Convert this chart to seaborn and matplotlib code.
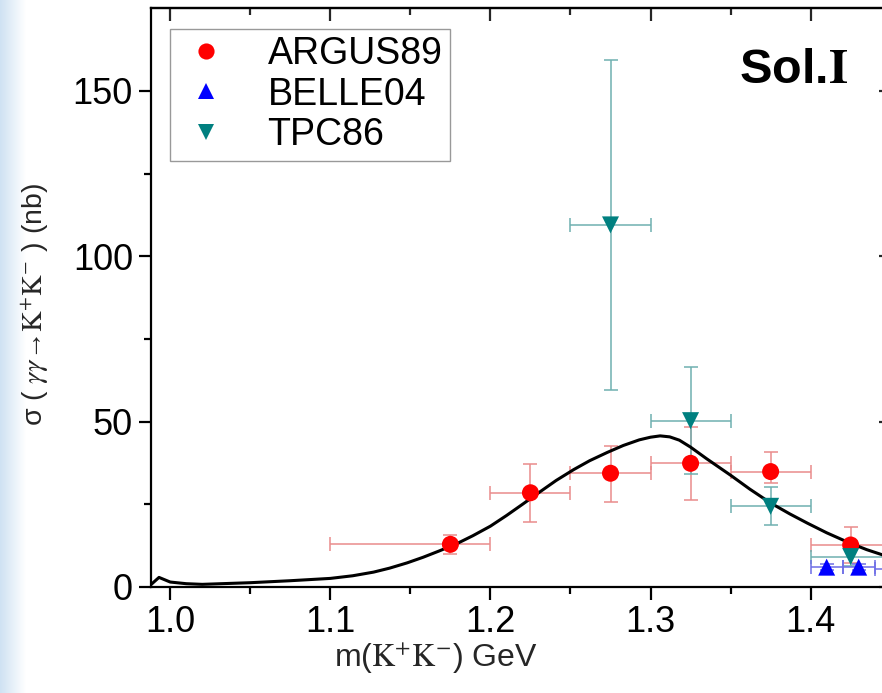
import numpy as np
import pandas as pd
import matplotlib
matplotlib.use("Agg")
import matplotlib.pyplot as plt
import seaborn as sns

# Model curve: sigma(gamma gamma -> K+ K-) in nb versus m(K+K-) in GeV
mass_curve = [0.987, 0.993, 1.000, 1.010, 1.020, 1.050, 1.075, 1.100, 1.114,
              1.127, 1.137, 1.148, 1.158, 1.168, 1.179, 1.189, 1.200, 1.210,
              1.220, 1.231, 1.241, 1.252, 1.262, 1.273, 1.283, 1.293, 1.300,
              1.306, 1.312, 1.318, 1.325, 1.335, 1.350, 1.362, 1.375, 1.387,
              1.398, 1.410, 1.423, 1.435, 1.445, 1.450]
sigma_curve = [0.3, 2.9, 1.5, 1.0, 0.8, 1.3, 1.9, 2.6, 3.4,
               4.5, 5.7, 7.3, 9.0, 10.9, 13.1, 15.5, 18.4, 21.6,
               25.0, 28.8, 32.2, 35.5, 38.2, 40.7, 42.8, 44.5, 45.3,
               45.7, 45.4, 44.4, 42.3, 38.8, 33.8, 29.6, 25.4, 22.1,
               19.3, 16.4, 13.6, 11.3, 9.7, 9.0]

# ARGUS89
argus_m = [1.175, 1.225, 1.275, 1.325, 1.375, 1.425]
argus_s = [12.9, 28.5, 34.4, 37.4, 34.9, 12.7]
argus_s_lo = [2.9, 8.8, 8.7, 11.1, 3.4, 5.5]
argus_s_hi = [2.8, 8.6, 8.3, 11.0, 6.0, 5.5]
argus_m_lo = [0.075, 0.025, 0.025, 0.025, 0.025, 0.025]
argus_m_hi = [0.025, 0.025, 0.025, 0.025, 0.025, 0.025]

# BELLE04
belle_m = [1.41, 1.43, 1.45]
belle_s = [6.0, 6.0, 5.5]
belle_s_err = [1.0, 1.0, 1.0]
belle_m_err = [0.01, 0.01, 0.01]

# TPC86
tpc_m = [1.275, 1.325, 1.375, 1.425]
tpc_s = [109.5, 50.3, 24.4, 9.2]
tpc_s_err = [50.0, 16.2, 5.7, 3.0]
tpc_m_err = [0.025, 0.025, 0.025, 0.025]

experiments = ["ARGUS89", "BELLE04", "TPC86"]
marker_colors = {"ARGUS89": "#ff0000", "BELLE04": "#0000ff", "TPC86": "#008080"}
bar_colors = {"ARGUS89": "#e98c8c", "BELLE04": "#6e6ee6", "TPC86": "#6fb0b0"}
marker_shapes = {"ARGUS89": "o", "BELLE04": "^", "TPC86": "v"}

points = pd.DataFrame({
    "m": argus_m + belle_m + tpc_m,
    "sigma": argus_s + belle_s + tpc_s,
    "exp": ["ARGUS89"] * len(argus_m) + ["BELLE04"] * len(belle_m) + ["TPC86"] * len(tpc_m),
})
curve = pd.DataFrame({"m": mass_curve, "sigma": sigma_curve})

sns.set_style("ticks")
plt.rcParams["font.family"] = ["Liberation Sans", "DejaVu Sans"]
plt.rcParams["mathtext.fontset"] = "stix"
plt.rcParams["text.color"] = "black"

fig = plt.figure(figsize=(8.82, 6.93), dpi=100)

# pale blue strip along the left edge
strip = fig.add_axes([0, 0, 26 / 882, 1])
grad = np.linspace(0, 1, 50).reshape(1, -1)
strip.imshow(grad, aspect="auto", cmap=matplotlib.colors.LinearSegmentedColormap.from_list(
    "edge", ["#cfe2f3", "#ffffff"]), extent=[0, 1, 0, 1])
strip.axis("off")

W, H = 882, 693
x_left, x_right = 151, 890.7
y_bot, y_top = 587, 8.3
ax = fig.add_axes([x_left / W, 1 - y_bot / H, (x_right - x_left) / W, (y_bot - y_top) / H])

# error bars
ax.errorbar(argus_m, argus_s, yerr=[argus_s_lo, argus_s_hi], xerr=[argus_m_lo, argus_m_hi],
            fmt="none", ecolor=bar_colors["ARGUS89"], elinewidth=1.1, capsize=5, capthick=1.1, zorder=2)
ax.errorbar(tpc_m, tpc_s, yerr=tpc_s_err, xerr=tpc_m_err,
            fmt="none", ecolor=bar_colors["TPC86"], elinewidth=1.1, capsize=5, capthick=1.1, zorder=2)
ax.errorbar(belle_m, belle_s, yerr=belle_s_err, xerr=belle_m_err,
            fmt="none", ecolor=bar_colors["BELLE04"], elinewidth=1.1, capsize=5, capthick=1.1, zorder=2)

sns.lineplot(data=curve, x="m", y="sigma", color="black", linewidth=2.2, ax=ax, zorder=3,
             sort=False, legend=False)
sns.scatterplot(data=points, x="m", y="sigma", hue="exp", style="exp",
                hue_order=experiments, style_order=experiments,
                palette=marker_colors, markers=marker_shapes, s=150, linewidth=0,
                ax=ax, zorder=4)

ax.set_xlim(0.988, 1.45)
ax.set_ylim(0, 175)
ax.set_xticks([1.0, 1.1, 1.2, 1.3, 1.4])
ax.set_xticklabels(["1.0", "1.1", "1.2", "1.3", "1.4"])
ax.set_xticks(np.arange(1.05, 1.45, 0.1), minor=True)
ax.set_yticks([0, 50, 100, 150])
ax.set_yticks([25, 75, 125], minor=True)

for side in ["left", "bottom", "top", "right"]:
    ax.spines[side].set_visible(True)
    ax.spines[side].set_linewidth(1.6)
    ax.spines[side].set_color("black")

ax.tick_params(axis="both", which="major", labelsize=26, length=9, width=1.6, color="black",
               labelcolor="black", pad=4)
ax.tick_params(axis="both", which="minor", length=5, width=1.6, color="black")
ax.tick_params(axis="x", which="both", direction="out", top=False)
ax.tick_params(axis="y", which="both", direction="out", right=False)

# inward ticks on the top and right frame
top = ax.secondary_xaxis("top")
top.set_xticks([1.0, 1.1, 1.2, 1.3, 1.4])
top.set_xticks(np.arange(1.05, 1.45, 0.1), minor=True)
top.tick_params(which="major", direction="in", length=9, width=1.6, labeltop=False)
top.tick_params(which="minor", direction="in", length=5, width=1.6)
top.spines["top"].set_linewidth(1.6)
right = ax.secondary_yaxis("right")
right.set_yticks([0, 50, 100, 150])
right.set_yticks([25, 75, 125], minor=True)
right.tick_params(which="major", direction="in", length=9, width=1.6, labelright=False)
right.tick_params(which="minor", direction="in", length=5, width=1.6)

ax.set_xlabel(r"m($\mathrm{K^{+}K^{-}}$) GeV", fontsize=23)
ax.xaxis.set_label_coords(0.385, -0.092)
ax.set_ylabel(r"σ ( $\gamma\gamma$→$\mathrm{K^{+}K^{-}}$ ) (nb)", fontsize=20.5, va="center")
ax.yaxis.set_label_coords(-0.157, 0.489)

ax.text(0.795, 0.892, r"Sol.$\mathbf{I}$", transform=ax.transAxes, fontsize=35,
        fontweight="bold", ha="left", va="center", color="black")

handles, labels = ax.get_legend_handles_labels()
leg = ax.legend(handles, labels, loc="upper left", bbox_to_anchor=(0.0257, 0.965),
                borderaxespad=0, fontsize=27, frameon=True, fancybox=False,
                handletextpad=0.9, labelspacing=0.12, borderpad=0.2, handlelength=1.5,
                markerscale=0.95)
leg.get_frame().set_edgecolor("#808080")
leg.get_frame().set_linewidth(1.0)
for t in leg.get_texts():
    t.set_color("black")

fig.savefig("out.png", dpi=100)
